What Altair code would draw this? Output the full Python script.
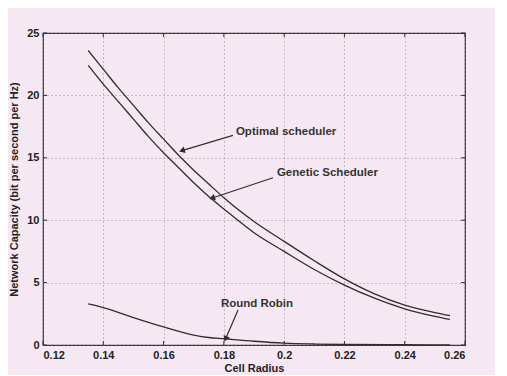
import math
import altair as alt
import pandas as pd

# ---- data ----
radius = [0.135, 0.14, 0.145, 0.15, 0.155, 0.16, 0.165, 0.17, 0.175, 0.18,
          0.19, 0.2, 0.21, 0.22, 0.23, 0.24, 0.25, 0.255]
optimal = [23.6, 22.1, 20.6, 19.2, 17.8, 16.5, 15.2, 14.0, 12.9, 11.8,
           9.9, 8.3, 6.75, 5.3, 4.1, 3.2, 2.6, 2.35]
genetic = [22.4, 20.9, 19.5, 18.1, 16.7, 15.4, 14.2, 13.0, 11.9, 10.9,
           9.0, 7.5, 6.05, 4.8, 3.75, 2.9, 2.3, 2.05]
rr_radius = [0.135, 0.14, 0.15, 0.16, 0.17, 0.175, 0.18, 0.19, 0.2, 0.21,
             0.22, 0.24, 0.255]
round_robin = [3.3, 3.0, 2.2, 1.45, 0.8, 0.6, 0.5, 0.3, 0.15, 0.08,
               0.04, 0.02, 0.01]

x_ticks = [0.12, 0.14, 0.16, 0.18, 0.2, 0.22, 0.24, 0.26]
y_ticks = [0, 5, 10, 15, 20, 25]

ann_text = ["Optimal scheduler", "Genetic Scheduler", "Round Robin"]
ann_tx = [0.184, 0.1976, 0.1910]
ann_ty = [17.1, 13.8, 3.3]
arrow_x = [0.1830, 0.1963, 0.1847]
arrow_y = [16.8, 13.4, 2.8]
arrow_x2 = [0.1664, 0.1764, 0.1807]
arrow_y2 = [15.6, 11.8, 0.56]

# ---- layout ----
W, H = 422, 312
XMIN, XMAX, YMIN, YMAX = 0.12, 0.26, 0, 25
px_per_x = W / (XMAX - XMIN)
px_per_y = H / (YMAX - YMIN)
BG = "#f6e8f2"
INK = "#2e2e2e"
FONT = "Liberation Sans"

xs = alt.Scale(domain=[XMIN, XMAX], nice=False, zero=False)
ys = alt.Scale(domain=[YMIN, YMAX], nice=False)

rows = []
for r, o, g in zip(radius, optimal, genetic):
    rows.append({"r": r, "c": o, "s": "Optimal"})
    rows.append({"r": r, "c": g, "s": "Genetic"})
for r, v in zip(rr_radius, round_robin):
    rows.append({"r": r, "c": v, "s": "Round Robin"})
df = pd.DataFrame(rows)

lines = alt.Chart(df).mark_line(color=INK, strokeWidth=1.3, interpolate="monotone").encode(
    x=alt.X("r:Q", scale=xs, title="Cell Radius",
            axis=alt.Axis(values=x_ticks, format=".2~f", grid=True, tickSize=0,
                          gridDash=[1, 3], gridColor="#777", gridWidth=0.8,
                          domain=False, labelPadding=4, titlePadding=2)),
    y=alt.Y("c:Q", scale=ys, title="Network Capacity (bit per second per Hz)",
            axis=alt.Axis(values=y_ticks, grid=True, tickSize=0,
                          gridDash=[1, 3], gridColor="#777", gridWidth=0.8,
                          domain=False, labelPadding=4, titlePadding=7)),
    detail="s:N",
)

# inward tick marks (MATLAB style)
tl_x = 4 / px_per_x
tl_y = 4 / px_per_y
tick_rows = []
for t in x_ticks:
    tick_rows.append({"x": t, "x2": t, "y": YMIN, "y2": YMIN + tl_y})
    tick_rows.append({"x": t, "x2": t, "y": YMAX, "y2": YMAX - tl_y})
for t in y_ticks:
    tick_rows.append({"x": XMIN, "x2": XMIN + tl_x, "y": t, "y2": t})
    tick_rows.append({"x": XMAX, "x2": XMAX - tl_x, "y": t, "y2": t})
ticks = alt.Chart(pd.DataFrame(tick_rows)).mark_rule(color=INK, strokeWidth=1).encode(
    x=alt.X("x:Q", scale=xs), x2="x2:Q", y=alt.Y("y:Q", scale=ys), y2="y2:Q")

# annotations
ann_df = pd.DataFrame({"t": ann_text, "x": ann_tx, "y": ann_ty})
texts_left = alt.Chart(ann_df.iloc[:2]).mark_text(
    font=FONT, fontSize=11.5, fontWeight="bold", color="#333",
    baseline="middle", align="left").encode(
    x=alt.X("x:Q", scale=xs), y=alt.Y("y:Q", scale=ys), text="t:N")
texts_center = alt.Chart(ann_df.iloc[2:]).mark_text(
    font=FONT, fontSize=11.5, fontWeight="bold", color="#333",
    baseline="middle", align="center").encode(
    x=alt.X("x:Q", scale=xs), y=alt.Y("y:Q", scale=ys), text="t:N")

arr_df = pd.DataFrame({"x": arrow_x, "y": arrow_y, "x2": arrow_x2, "y2": arrow_y2})
angles = []
for a, b, c, d in zip(arrow_x, arrow_y, arrow_x2, arrow_y2):
    dx = (c - a) * px_per_x
    dy = -(d - b) * px_per_y
    angles.append((math.degrees(math.atan2(dx, -dy)) + 360) % 360)
arr_df["angle"] = angles
arrows = alt.Chart(arr_df).mark_rule(color=INK, strokeWidth=1.2).encode(
    x=alt.X("x:Q", scale=xs), y=alt.Y("y:Q", scale=ys), x2="x2:Q", y2="y2:Q")
heads = alt.Chart(arr_df).mark_point(shape="triangle", filled=True, size=45,
                                     color=INK, opacity=1).encode(
    x=alt.X("x2:Q", scale=xs), y=alt.Y("y2:Q", scale=ys),
    angle=alt.Angle("angle:Q", scale=None))

chart = alt.layer(lines, ticks, arrows, heads, texts_left, texts_center).properties(
    width=W, height=H, background=BG,
    autosize=alt.AutoSizeParams(type="none"),
    padding={"left": 35, "top": 25, "right": 30, "bottom": 30},
).configure_view(stroke=INK, strokeWidth=1.2, fill=BG).configure_axis(
    labelFont=FONT, labelFontSize=11, labelFontWeight="bold", labelColor="#222",
    titleFont=FONT, titleFontSize=11, titleFontWeight="bold", titleColor="#222",
)

chart.save("out.html", embed_options={"renderer": "svg", "actions": False})
